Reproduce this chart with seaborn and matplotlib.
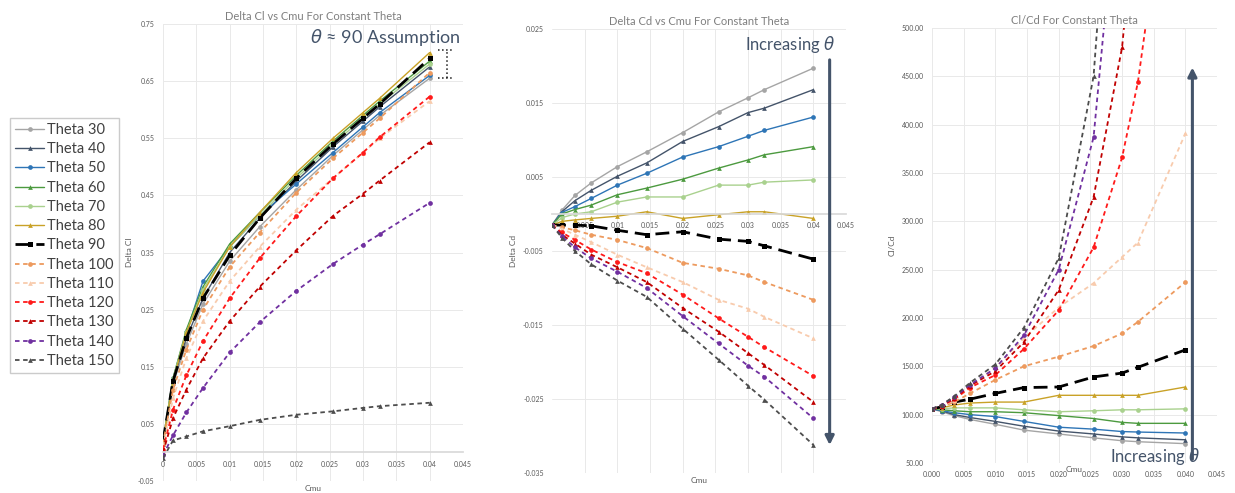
import matplotlib
matplotlib.use("Agg")
import matplotlib.pyplot as plt
import seaborn as sns

# Cmu sample points (shared by all three panels)
cmu = [0, 0.0015, 0.0035, 0.006, 0.01, 0.0145, 0.02, 0.0255, 0.03, 0.0325, 0.04]
thetas = [30, 40, 50, 60, 70, 80, 90, 100, 110, 120, 130, 140, 150]

# Delta Cl vs Cmu
delta_cl = {
    30: [0.015, 0.12, 0.19, 0.26, 0.335, 0.395, 0.46, 0.52, 0.565, 0.59, 0.655],
    40: [0.015, 0.125, 0.20, 0.27, 0.35, 0.41, 0.475, 0.535, 0.58, 0.605, 0.675],
    50: [0.02, 0.13, 0.21, 0.30, 0.36, 0.415, 0.47, 0.525, 0.57, 0.595, 0.66],
    60: [0.02, 0.13, 0.215, 0.29, 0.365, 0.42, 0.485, 0.545, 0.59, 0.615, 0.685],
    70: [0.02, 0.13, 0.21, 0.285, 0.36, 0.415, 0.48, 0.54, 0.585, 0.61, 0.68],
    80: [0.02, 0.125, 0.21, 0.28, 0.36, 0.42, 0.49, 0.55, 0.595, 0.62, 0.70],
    90: [0.02, 0.125, 0.20, 0.27, 0.345, 0.41, 0.48, 0.54, 0.585, 0.61, 0.69],
    100: [0.015, 0.11, 0.18, 0.25, 0.325, 0.385, 0.455, 0.515, 0.56, 0.585, 0.665],
    110: [0.01, 0.095, 0.165, 0.23, 0.30, 0.36, 0.425, 0.48, 0.525, 0.55, 0.615],
    120: [0.005, 0.075, 0.135, 0.195, 0.27, 0.34, 0.414, 0.48, 0.525, 0.552, 0.623],
    130: [0.0, 0.06, 0.11, 0.165, 0.23, 0.29, 0.354, 0.414, 0.453, 0.476, 0.543],
    140: [-0.005, 0.03, 0.07, 0.113, 0.175, 0.228, 0.283, 0.33, 0.364, 0.382, 0.437],
    150: [-0.01, 0.021, 0.028, 0.037, 0.046, 0.057, 0.066, 0.072, 0.078, 0.081, 0.087],
}

# Delta Cd vs Cmu
delta_cd = {
    30: [-0.0015, 0.0005, 0.0025, 0.0042, 0.0064, 0.0084, 0.011, 0.0138, 0.0157, 0.0168, 0.0197],
    40: [-0.0015, 0.0003, 0.0018, 0.0032, 0.0051, 0.0069, 0.0098, 0.0118, 0.0137, 0.0143, 0.0168],
    50: [-0.0015, 0.0002, 0.001, 0.0021, 0.0039, 0.0055, 0.0077, 0.0091, 0.0105, 0.0113, 0.0131],
    60: [-0.0015, 0.0, 0.0006, 0.0012, 0.0026, 0.0035, 0.0047, 0.0062, 0.0073, 0.008, 0.0091],
    70: [-0.0015, -0.0005, 0.0, 0.0003, 0.0016, 0.0023, 0.0023, 0.0039, 0.0039, 0.0043, 0.0046],
    80: [-0.0015, -0.001, -0.0008, -0.0006, -0.0003, 0.0003, -0.0006, -0.0001, 0.0003, 0.0003, -0.0006],
    90: [-0.0015, -0.0015, -0.0015, -0.0016, -0.0022, -0.0028, -0.0024, -0.0034, -0.0037, -0.0043, -0.0061],
    100: [-0.0015, -0.0018, -0.0022, -0.0028, -0.0035, -0.0046, -0.0066, -0.0074, -0.0083, -0.0092, -0.0116],
    110: [-0.0015, -0.002, -0.0028, -0.0038, -0.0055, -0.0072, -0.0092, -0.0116, -0.0128, -0.0139, -0.0168],
    120: [-0.0015, -0.0025, -0.0035, -0.0048, -0.0065, -0.008, -0.0109, -0.0141, -0.0166, -0.018, -0.0219],
    130: [-0.0015, -0.0028, -0.004, -0.0055, -0.0072, -0.0092, -0.0127, -0.0159, -0.0188, -0.0204, -0.0254],
    140: [-0.0015, -0.003, -0.0045, -0.006, -0.0078, -0.01, -0.0138, -0.0175, -0.0205, -0.022, -0.0276],
    150: [-0.0015, -0.0032, -0.005, -0.0068, -0.009, -0.0112, -0.0155, -0.0197, -0.0232, -0.0251, -0.0312],
}

# Cl/Cd vs Cmu
cl_cd = {
    30: [106, 103, 99, 95, 90, 84, 80, 76, 73, 72, 70],
    40: [106, 104, 100, 97, 93, 88, 83, 80, 77, 76, 74],
    50: [106, 104, 102, 100, 98, 93, 87, 85, 82.5, 82, 81],
    60: [106, 105, 104, 103, 103, 102, 99, 96, 92, 91, 91],
    70: [106, 106, 107, 107, 107, 105, 103, 104, 105, 105, 106],
    80: [106, 107, 110, 112, 113, 113, 120, 120, 120, 120, 128.6],
    90: [106, 108, 113, 116, 122, 128, 128.6, 139, 143, 149, 167],
    100: [106, 108, 113, 122, 136, 150, 160, 171, 184, 196, 237],
    110: [106, 109, 115, 128, 149, 179, 211, 236, 263, 278, 391],
    120: [106, 109, 116, 128, 141, 168, 208, 273, 366, 444, 800],
    130: [106, 109, 117, 130, 145, 175, 229, 325, 480, 650, 1100],
    140: [106, 110, 118, 131, 148, 182, 250, 387, 700, 900, 1400],
    150: [106, 110, 119, 133, 152, 190, 262, 450, 850, 1200, 1800],
}

colors = {30: '#A5A5A5', 40: '#44546A', 50: '#2E75B6', 60: '#4C9A3F', 70: '#A9D18E',
          80: '#C9A227', 90: '#000000', 100: '#ED9A5E', 110: '#F8CBAD', 120: '#FF1A1A',
          130: '#C00000', 140: '#7030A0', 150: '#4D4D4D'}
markers = {30: 'o', 40: '^', 50: 'o', 60: '^', 70: 'o', 80: '^', 90: 's',
           100: 'o', 110: '^', 120: 'o', 130: '^', 140: 'o', 150: '^'}

sns.set_theme(style="whitegrid")
plt.rcParams['font.family'] = ['Lato', 'DejaVu Sans']
TXT = '#595959'
ACC = '#44546A'

fig = plt.figure(figsize=(12.35, 4.93), dpi=100)
ax1 = fig.add_axes([0.132, 0.0243, 0.2429, 0.927])
ax2 = fig.add_axes([0.447, 0.0406, 0.238, 0.9006])
ax3 = fig.add_axes([0.7547, 0.0609, 0.2308, 0.8824])


def draw_series(ax, data):
    for th in thetas:
        if th < 90:
            ls, lw, ms = '-', 1.0, 3.4
        elif th == 90:
            ls, lw, ms = (0, (5, 2.5)), 2.0, 3.6
        else:
            ls, lw, ms = (0, (2.5, 2)), 1.3, 3.4
        sns.lineplot(x=cmu, y=data[th], ax=ax, color=colors[th], marker=markers[th],
                     linestyle=ls, linewidth=lw, markersize=ms, markeredgewidth=0,
                     label=f"Theta {th}", legend=False, sort=False)


def style_axes(ax, title, ylabel, xlim, ylim, xticks, xlabels, yticks, ylabels):
    ax.set_xlim(xlim)
    ax.set_ylim(ylim)
    ax.set_xticks(xticks)
    ax.set_xticklabels(xlabels)
    ax.set_yticks(yticks)
    ax.set_yticklabels(ylabels)
    for s in ax.spines.values():
        s.set_visible(False)
    ax.grid(True, color='#E9E9E9', linewidth=0.7)
    ax.set_axisbelow(True)
    ax.tick_params(labelsize=5, colors=TXT, length=0, pad=6)
    ax.set_title(title, fontsize=8, color='#7F7F7F', pad=3)
    ax.set_ylabel(ylabel, fontsize=6, color=TXT, labelpad=4)
    ax.set_xlabel('')
    ax.text(0.5, -0.008, 'Cmu', transform=ax.transAxes, ha='center', va='top',
            fontsize=6, color=TXT)


xt = [0, 0.005, 0.01, 0.015, 0.02, 0.025, 0.03, 0.035, 0.04, 0.045]
xt_gen = ['0', '0.005', '0.01', '0.015', '0.02', '0.025', '0.03', '0.035', '0.04', '0.045']

# Panel 1
draw_series(ax1, delta_cl)
yt1 = [-0.05, 0.05, 0.15, 0.25, 0.35, 0.45, 0.55, 0.65, 0.75]
style_axes(ax1, 'Delta Cl vs Cmu For Constant Theta', 'Delta Cl', (0, 0.045), (-0.05, 0.75),
           xt, xt_gen, yt1, [f"{v:.2f}" for v in yt1])
ax1.spines['bottom'].set_position(('data', 0))
ax1.spines['bottom'].set_visible(True)
ax1.spines['bottom'].set_color('#D9D9D9')
ax1.text(0.0333, 0.727, r'$\theta$ ≈ 90 Assumption', ha='center', va='center',
         fontsize=13, color=ACC)
ax1.vlines(0.0426, 0.655, 0.704, colors='k', linestyles=':', linewidth=1.1)
ax1.hlines([0.655, 0.704], 0.0413, 0.0437, colors='k', linestyles=':', linewidth=1.1)

# Panel 2
draw_series(ax2, delta_cd)
yt2 = [-0.035, -0.025, -0.015, -0.005, 0.005, 0.015, 0.025]
style_axes(ax2, 'Delta Cd vs Cmu For Constant Theta', 'Delta Cd', (0, 0.045), (-0.035, 0.025),
           xt[1:], xt_gen[1:], yt2, [f"{v:.3f}" for v in yt2])
ax2.spines['bottom'].set_position(('data', 0))
ax2.spines['bottom'].set_visible(True)
ax2.spines['bottom'].set_color('#D9D9D9')
ax2.annotate('', xy=(0.0425, -0.0316), xytext=(0.0425, 0.0212),
             arrowprops=dict(arrowstyle='-|>', color=ACC, lw=2.2, mutation_scale=13))
ax2.text(0.0433, 0.0229, r'Increasing $\theta$', ha='right', va='center', fontsize=12, color=ACC)

# Panel 3
draw_series(ax3, cl_cd)
yt3 = [50, 100, 150, 200, 250, 300, 350, 400, 450, 500]
style_axes(ax3, 'Cl/Cd For Constant Theta', 'Cl/Cd', (0, 0.045), (50, 500),
           xt, [f"{v:.3f}" for v in xt], yt3, [f"{v:.2f}" for v in yt3])
ax3.annotate('', xy=(0.0411, 462), xytext=(0.0411, 51),
             arrowprops=dict(arrowstyle='-|>', color=ACC, lw=2.2, mutation_scale=13))
ax3.text(0.0424, 57, r'Increasing $\theta$', ha='right', va='center', fontsize=12, color=ACC)

handles, labels = ax1.get_legend_handles_labels()
leg = fig.legend(handles, labels, loc='upper left', bbox_to_anchor=(0.008, 0.761),
                 frameon=True, fancybox=False, edgecolor='#BFBFBF', fontsize=10.5,
                 labelspacing=0.36, handlelength=2.0, handletextpad=0.2, borderpad=0.35,
                 borderaxespad=0)
for t in leg.get_texts():
    t.set_color('#404040')

fig.savefig('out.png', dpi=100)
